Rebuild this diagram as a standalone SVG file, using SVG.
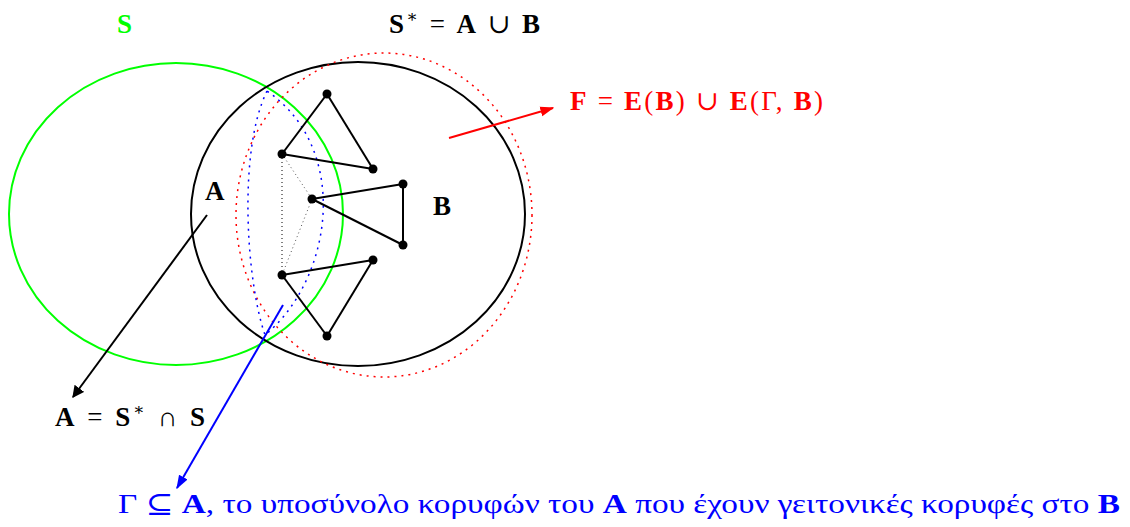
<svg xmlns="http://www.w3.org/2000/svg" width="1130" height="527" viewBox="0 0 1130 527">
<defs>
<style>
.m{font-family:"Liberation Serif","DejaVu Serif",serif;font-size:27px}
.b{font-weight:bold}
.e{fill:none;stroke-width:2}
.ed{stroke:#000;stroke-width:2}
.v{fill:#000}
</style>
<marker id="ak" viewBox="0 0 10 10" refX="9" refY="5" markerWidth="12" markerHeight="12" markerUnits="userSpaceOnUse" orient="auto"><path d="M0,0L10,5L0,10z" fill="#000"/></marker>
<marker id="ar" viewBox="0 0 10 10" refX="9" refY="5" markerWidth="14" markerHeight="14" markerUnits="userSpaceOnUse" orient="auto"><path d="M0,1.5L10,5L0,8.5z" fill="#f00"/></marker>
<marker id="ab" viewBox="0 0 10 10" refX="9" refY="5" markerWidth="14" markerHeight="14" markerUnits="userSpaceOnUse" orient="auto"><path d="M0,1.5L10,5L0,8.5z" fill="#00f"/></marker>
</defs>
<rect width="1130" height="527" fill="#fff"/>
<g id="setS"><ellipse cx="176" cy="214" rx="167" ry="151" class="e" stroke="#0f0"/></g>
<g id="setSstar"><ellipse cx="358" cy="214" rx="167" ry="152" class="e" stroke="#000"/></g>
<g id="setF"><ellipse cx="384" cy="215" rx="148" ry="162" fill="none" stroke="#f00" stroke-width="1.5" stroke-dasharray="2 5"/></g>
<g id="setGamma"><path d="M267,91 C238,150 246,280 265,335 C332,280 352,150 267,91Z" fill="none" stroke="#00f" stroke-width="1.5" stroke-dasharray="2 5"/></g>
<g id="connectors">
<g class="ed">
<line x1="327" y1="94" x2="282" y2="154"/>
<line x1="327" y1="94" x2="373" y2="169"/>
<line x1="282" y1="154" x2="373" y2="169"/>
<line x1="312" y1="199" x2="403" y2="184"/>
<line x1="403" y1="184" x2="403" y2="245"/>
<line x1="312" y1="199" x2="403" y2="245"/>
<line x1="282" y1="275" x2="373" y2="260"/>
<line x1="373" y1="260" x2="327" y2="336"/>
<line x1="282" y1="275" x2="327" y2="336"/>
</g>
<line x1="282" y1="154" x2="282" y2="275" stroke="#000" stroke-width="1" stroke-dasharray="1 3"/>
<line x1="282" y1="154" x2="312" y2="199" stroke="#555" stroke-width="1" stroke-dasharray="1 3"/>
<line x1="312" y1="199" x2="282" y2="275" stroke="#555" stroke-width="1" stroke-dasharray="1 3"/>
<line x1="207" y1="215" x2="73" y2="397" stroke="#000" stroke-width="2" marker-end="url(#ak)"/>
<line x1="449" y1="138" x2="553" y2="108" stroke="#f00" stroke-width="2" marker-end="url(#ar)"/>
<line x1="283" y1="305" x2="177" y2="488" stroke="#00f" stroke-width="2" marker-end="url(#ab)"/>
</g>
<g id="n1"><circle cx="327" cy="94" r="4.5" class="v"/></g>
<g id="n2"><circle cx="282" cy="154" r="4.5" class="v"/></g>
<g id="n3"><circle cx="373" cy="169" r="4.5" class="v"/></g>
<g id="n4"><circle cx="403" cy="184" r="4.5" class="v"/></g>
<g id="n5"><circle cx="312" cy="199" r="4.5" class="v"/></g>
<g id="n6"><circle cx="403" cy="245" r="4.5" class="v"/></g>
<g id="n7"><circle cx="373" cy="260" r="4.5" class="v"/></g>
<g id="n8"><circle cx="282" cy="275" r="4.5" class="v"/></g>
<g id="n9"><circle cx="327" cy="336" r="4.5" class="v"/></g>
<g id="labels">
<text class="m b" x="117" y="33" fill="#0f0">S</text>
<text class="m b" x="205" y="200" fill="#000">A</text>
<text class="m b" x="433" y="215" fill="#000">B</text>
<text class="m" x="389" y="33" fill="#000" textLength="151" lengthAdjust="spacing"><tspan class="b">S</tspan><tspan dy="-11" font-size="17">∗</tspan><tspan dy="11"> = </tspan><tspan class="b">A</tspan> ∪ <tspan class="b">B</tspan></text>
<text class="m" x="570" y="110" fill="#f00" textLength="253" lengthAdjust="spacing"><tspan class="b">F</tspan> = <tspan class="b">E</tspan>(<tspan class="b">B</tspan>) ∪ <tspan class="b">E</tspan>(Γ, <tspan class="b">B</tspan>)</text>
<text class="m" x="55" y="426" fill="#000" textLength="150" lengthAdjust="spacing"><tspan class="b">A</tspan> = <tspan class="b">S</tspan><tspan dy="-11" font-size="17">∗</tspan><tspan dy="11"> ∩ </tspan><tspan class="b">S</tspan></text>
<text class="m" x="118" y="513" fill="#00f" font-size="28" textLength="1002" lengthAdjust="spacingAndGlyphs">Γ ⊆ <tspan class="b">A</tspan>, το υποσύνολο κορυφών του <tspan class="b">A</tspan> που έχουν γειτονικές κορυφές στο <tspan class="b">B</tspan></text>
</g>
</svg>
